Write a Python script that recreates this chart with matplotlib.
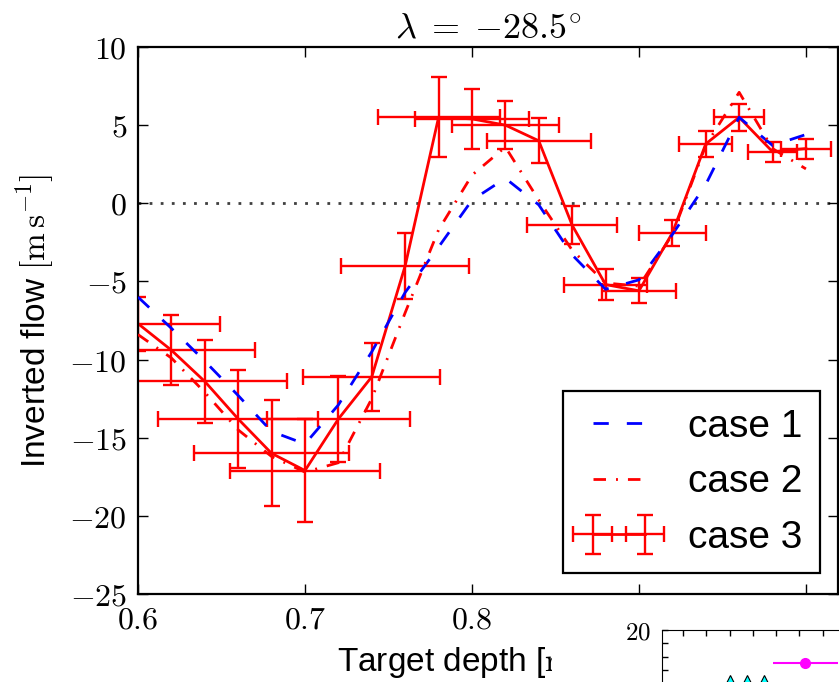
import matplotlib
matplotlib.use("Agg")
import matplotlib.pyplot as plt
from matplotlib.patches import Rectangle
from matplotlib.ticker import FuncFormatter, MultipleLocator

plt.rcParams['mathtext.fontset'] = 'cm'
plt.rcParams['mathtext.default'] = 'rm'
plt.rcParams['font.family'] = ['Liberation Sans', 'DejaVu Sans']

# target depths (r/R)
depth = [0.60, 0.62, 0.64, 0.66, 0.68, 0.70, 0.72, 0.74, 0.76, 0.78, 0.80,
         0.82, 0.84, 0.86, 0.88, 0.90, 0.92, 0.94, 0.96, 0.98, 1.00]

case1 = [-6.0, -8.0, -10.1, -12.3, -14.6, -15.4, -12.9, -9.5, -5.7, -2.8, 0.2,
         1.6, -0.1, -3.3, -5.5, -4.9, -2.0, 1.2, 5.5, 3.7, 4.4]
case2 = [-8.4, -9.9, -12.1, -14.5, -16.2, -17.2, -16.6, -12.5, -7.0, -1.7, 1.8,
         3.6, 0.2, -3.0, -5.1, -5.3, -2.0, 3.7, 7.1, 3.5, 2.2]
case3 = [-7.7, -9.4, -11.4, -13.8, -16.0, -17.1, -13.8, -11.1, -4.0, 5.5, 5.4,
         5.0, 4.0, -1.4, -5.2, -5.6, -1.9, 3.8, 5.5, 3.3, 3.5]
case3_yerr = [1.73, 2.22, 2.67, 3.11, 3.39, 3.31, 2.77, 2.19, 2.1, 2.56, 1.92,
              1.55, 1.44, 1.23, 1.01, 0.80, 0.83, 0.85, 0.85, 0.64, 0.64]
case3_xerr = [0.049, 0.050, 0.049, 0.048, 0.0465, 0.045, 0.043, 0.041, 0.0385,
              0.0365, 0.034, 0.032, 0.031, 0.027, 0.025, 0.022, 0.020, 0.016,
              0.015, 0.0144, 0.015]

# bits of the neighbouring panel that show in the corner
nb_tri_x = [2.02, 2.75, 3.48]
nb_tri_y = [15.9, 15.9, 15.9]
nb_pt_x = [5.25]
nb_pt_y = [17.5]
nb_pt_xerr = [1.4]

W, H = 839, 682
fig = plt.figure(figsize=(W / 100, H / 100), dpi=100)
ax = fig.add_axes([138 / W, 1 - 594 / H, 700 / W, 547 / H])

ax.axhline(0, color='0.25', ls=(0, (1, 3)), lw=2, zorder=1)

eb = ax.errorbar(depth, case3, yerr=case3_yerr, xerr=case3_xerr, fmt='-',
                 color='red', lw=2, elinewidth=1.7, capsize=5.8,
                 capthick=1.7, label='case 3', zorder=2)
l1, = ax.plot(depth, case1, color='blue', lw=2, ls=(0, (5.5, 6.5)),
              label='case 1', zorder=3)
l2, = ax.plot(depth, case2, color='red', lw=2, ls=(0, (4.5, 3.6, 0.7, 3.6)),
              label='case 2', zorder=3)

ax.set_xlim(0.6, 1.0192)
ax.set_ylim(-25, 10)
ax.xaxis.set_major_locator(MultipleLocator(0.1))
ax.yaxis.set_major_locator(MultipleLocator(5))
# labels past 0.8 sit under the next panel
ax.xaxis.set_major_formatter(FuncFormatter(lambda v, p: r'$%g$' % round(v, 2) if v < 0.85 else ''))
ax.yaxis.set_major_formatter(FuncFormatter(lambda v, p: r'$%g$' % round(v, 2)))
ax.tick_params(direction='in', top=True, right=True, length=7, width=1,
               labelsize=23, pad=8)
for s in ax.spines.values():
    s.set_linewidth(1.6)

ax.set_title(r'$\lambda\;=\;{-}28.5^{\circ}$', fontsize=26, pad=6)
ax.set_ylabel(r'Inverted flow $[\mathrm{m\,s^{-1}}]$', fontsize=24, labelpad=10)
ax.set_xlabel(r'Target depth [$r/R_\odot$]', fontsize=24, labelpad=6)

leg = ax.legend([l1, l2, eb], ['case 1', 'case 2', 'case 3'], loc='lower right',
                bbox_to_anchor=(0.974, 0.038), borderaxespad=0, numpoints=2,
                fontsize=28, fancybox=False, framealpha=1, edgecolor='black',
                handlelength=1.95, handletextpad=0.8, labelspacing=0.5,
                borderpad=0.45)
leg.get_frame().set_linewidth(1.6)

# white area of the next panel hiding the corner
fig.patches.append(Rectangle((552 / W, 0), 1, (H - 599) / H,
                             transform=fig.transFigure, facecolor='white',
                             edgecolor='none', zorder=5))

nb_w, nb_h = 300, 150
ax2 = fig.add_axes([662 / W, (H - 630 - nb_h) / H, nb_w / W, nb_h / H], zorder=10)
ax2.set_xlim(-0.9, -0.9 + nb_w / 23.3)
ax2.set_ylim(20 - nb_h / 13.3, 20)
ax2.plot(nb_tri_x, nb_tri_y, ls='none', marker='^', ms=15, mfc='cyan',
         mec='black', mew=0.8, clip_on=False)
ax2.errorbar(nb_pt_x, nb_pt_y, xerr=nb_pt_xerr, fmt='o', color='magenta',
             ms=7, lw=1.5, capsize=0)
ax2.xaxis.set_major_locator(MultipleLocator(1))
ax2.yaxis.set_major_locator(MultipleLocator(1))
ax2.yaxis.set_major_formatter(FuncFormatter(lambda v, p: r'$20$' if abs(v - 20) < 1e-6 else ''))
ax2.xaxis.set_major_formatter(FuncFormatter(lambda v, p: ''))
ax2.tick_params(direction='in', top=True, right=True, length=4, width=1,
                labelsize=18, pad=8)

fig.savefig('out.png', dpi=100)
